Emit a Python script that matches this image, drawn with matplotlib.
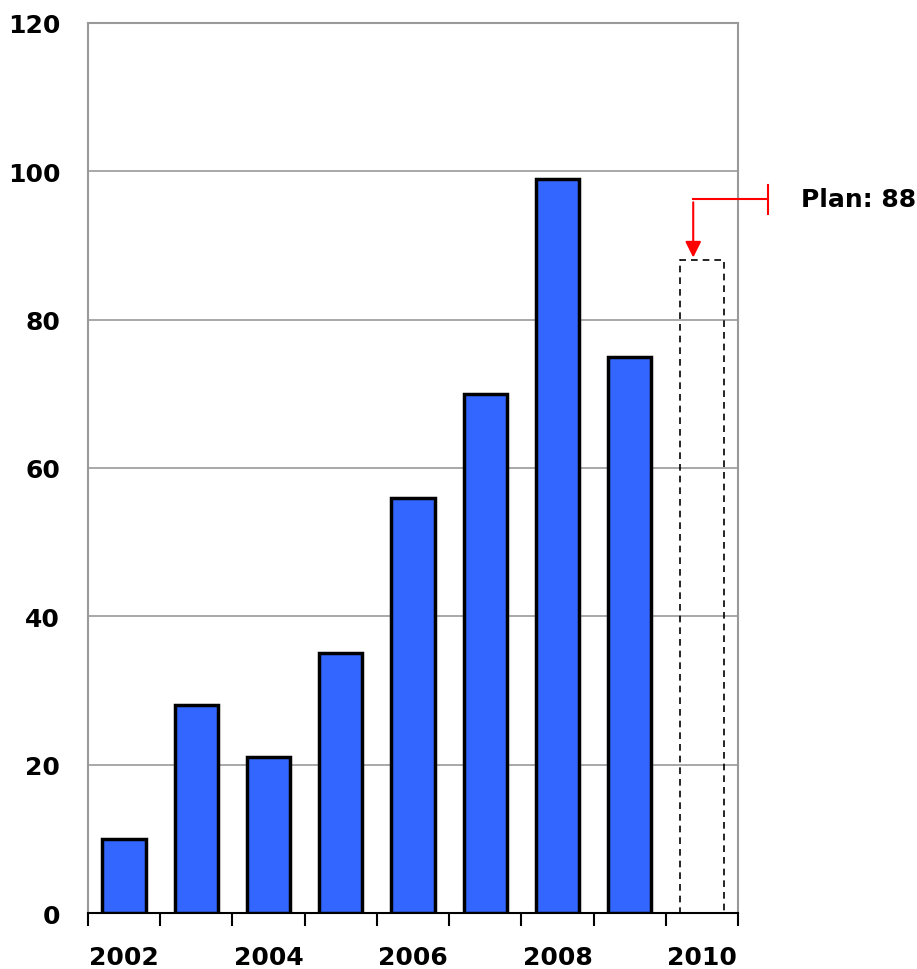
import numpy as np
import matplotlib.pyplot as plt

years = [2002, 2003, 2004, 2005, 2006, 2007, 2008, 2009]
values = [10, 28, 21, 35, 56, 70, 99, 75]
plan_year = 2010
plan_value = 88
tick_years = [2002, 2004, 2006, 2008, 2010]

plt.rcParams['font.family'] = 'DejaVu Sans'
plt.rcParams['font.weight'] = 'bold'

fig = plt.figure(figsize=(9.17, 9.70), dpi=100)
ax = fig.add_axes([0.096, 0.0577, 0.7088, 0.9176])

x = np.arange(len(years))
ax.bar(x, values, width=0.6, color='#3366FF', edgecolor='black', linewidth=2.5, zorder=3)
plan_x = len(years)
ax.bar(plan_x, plan_value, width=0.6, color='none', edgecolor='black',
       linewidth=1.2, linestyle=(0, (4, 3)), zorder=3)

ax.set_xlim(-0.5, plan_x + 0.5)
ax.set_ylim(0, 120)
ax.set_yticks(range(0, 121, 20))
ax.yaxis.grid(True, color='#999999', linewidth=1.2, zorder=0)
ax.tick_params(axis='y', length=0, pad=20, labelsize=18)

# category labels under every other bar, tick marks at the boundaries
ax.set_xticks([y - years[0] for y in tick_years])
ax.set_xticklabels([str(y) for y in tick_years], fontsize=18, fontweight='bold')
ax.tick_params(axis='x', length=0, pad=23)
ax.set_xticks(np.arange(-0.5, plan_x + 1, 1), minor=True)
ax.tick_params(axis='x', which='minor', length=9, width=1.5, color='black', direction='out')

for side in ['left', 'right', 'top']:
    ax.spines[side].set_color('#999999')
    ax.spines[side].set_linewidth(1.5)
ax.spines['bottom'].set_color('black')
ax.spines['bottom'].set_linewidth(1.5)

# plan annotation
ax.annotate('', xy=(plan_x - 0.12, plan_value), xytext=(plan_x - 0.12, 96.2),
            arrowprops=dict(arrowstyle='-|>', color='red', lw=1.5, mutation_scale=24),
            annotation_clip=False, zorder=5)
ax.plot([plan_x - 0.12, plan_x + 0.91], [96.2, 96.2], color='red', lw=1.5,
        clip_on=False, zorder=5)
ax.plot([plan_x + 0.91, plan_x + 0.91], [94.2, 98.2], color='red', lw=1.5,
        clip_on=False, zorder=5)
ax.text(plan_x + 1.37, 96.3, 'Plan: 88', fontsize=18, fontweight='bold',
        va='center', ha='left')

fig.savefig('out.png', dpi=100)
